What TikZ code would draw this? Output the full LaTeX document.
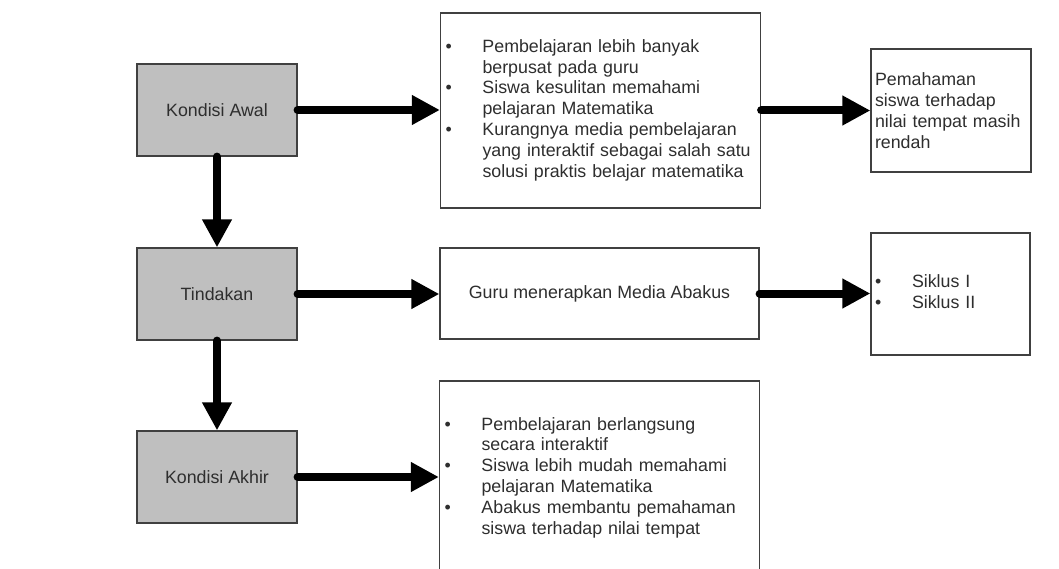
\documentclass[tikz,border=0pt]{standalone}
\usepackage{fontspec}
\setmainfont{Liberation Sans}
\usetikzlibrary{arrows.meta,positioning}

\tikzset{
    kondisi/.style={draw=black!75, line width=1.2pt, fill=black!25,
        minimum width=160pt, minimum height=92pt, inner sep=0pt},
    kotak/.style={draw=black!75, line width=1.2pt, fill=white, inner sep=0pt},
    panah/.style={line width=8pt, line cap=round,
        -{Triangle[length=28pt,width=28pt]}},
}
\newcommand{\butir}[2]{\textbullet & #1\\ & #2\\}

\begin{document}
\begin{tikzpicture}[x=1pt,y=-1pt,
    every node/.style={text=black!82, font=\fontsize{17.8}{20.8}\selectfont}]
    \useasboundingbox (0,0) rectangle (1059,569);
    \clip (0,0) rectangle (1059,569);
    \fill[white] (0,0) rectangle (1059,569);

    % kondisi (left column)
    \node[kondisi] (awal)     at (217,110) {Kondisi Awal};
    \node[kondisi] (tindakan) at (217,294) {Tindakan};
    \node[kondisi] (akhir)    at (217,477) {Kondisi Akhir};

    % middle column
    \node[kotak, minimum width=319pt, minimum height=195pt,
        text width=310pt, inner xsep=5pt] (masalah) at (600.5,110.5)
        {\begin{tabular}{@{}p{37pt}@{}l@{}}
            \butir{Pembelajaran lebih banyak}{berpusat pada guru}
            \butir{Siswa kesulitan memahami}{pelajaran Matematika}
            \textbullet & Kurangnya media pembelajaran\\
            & yang interaktif sebagai salah satu\\
            & solusi praktis belajar matematika
        \end{tabular}};
    \node[kotak, minimum width=319pt, minimum height=91pt] (media) at (599.5,293.5)
        {Guru menerapkan Media Abakus};
    \node[kotak, minimum width=319pt, minimum height=194pt,
        text width=310pt, inner xsep=5pt] (dampak) at (599.5,478)
        {\begin{tabular}{@{}p{37pt}@{}l@{}}
            \butir{Pembelajaran berlangsung}{secara interaktif}
            \butir{Siswa lebih mudah memahami}{pelajaran Matematika}
            \textbullet & Abakus membantu pemahaman\\
            & siswa terhadap nilai tempat
        \end{tabular}};

    % right column
    \node[kotak, minimum width=160pt, minimum height=123pt,
        text width=152pt, inner xsep=4pt, align=left] (hasil) at (951,110.5)
        {Pemahaman\\siswa terhadap\\nilai tempat masih\\rendah};
    \node[kotak, minimum width=159pt, minimum height=122pt,
        text width=151pt, inner xsep=4pt] (siklus) at (950.5,294)
        {\begin{tabular}{@{}p{37pt}@{}l@{}}
            \textbullet & Siklus I\\
            \textbullet & Siklus II
        \end{tabular}};

    % arrows
    \draw[panah] (awal.east) -- (awal.east -| masalah.west);
    \draw[panah] (masalah.east) -- (masalah.east -| hasil.west);
    \draw[panah] (awal.south) -- (tindakan.north);
    \draw[panah] (tindakan.east) -- (tindakan.east -| media.west);
    \draw[panah] (media.east) -- (media.east -| siklus.west);
    \draw[panah] (tindakan.south) -- (akhir.north);
    \draw[panah] (akhir.east) -- (akhir.east -| dampak.west);
\end{tikzpicture}
\end{document}
